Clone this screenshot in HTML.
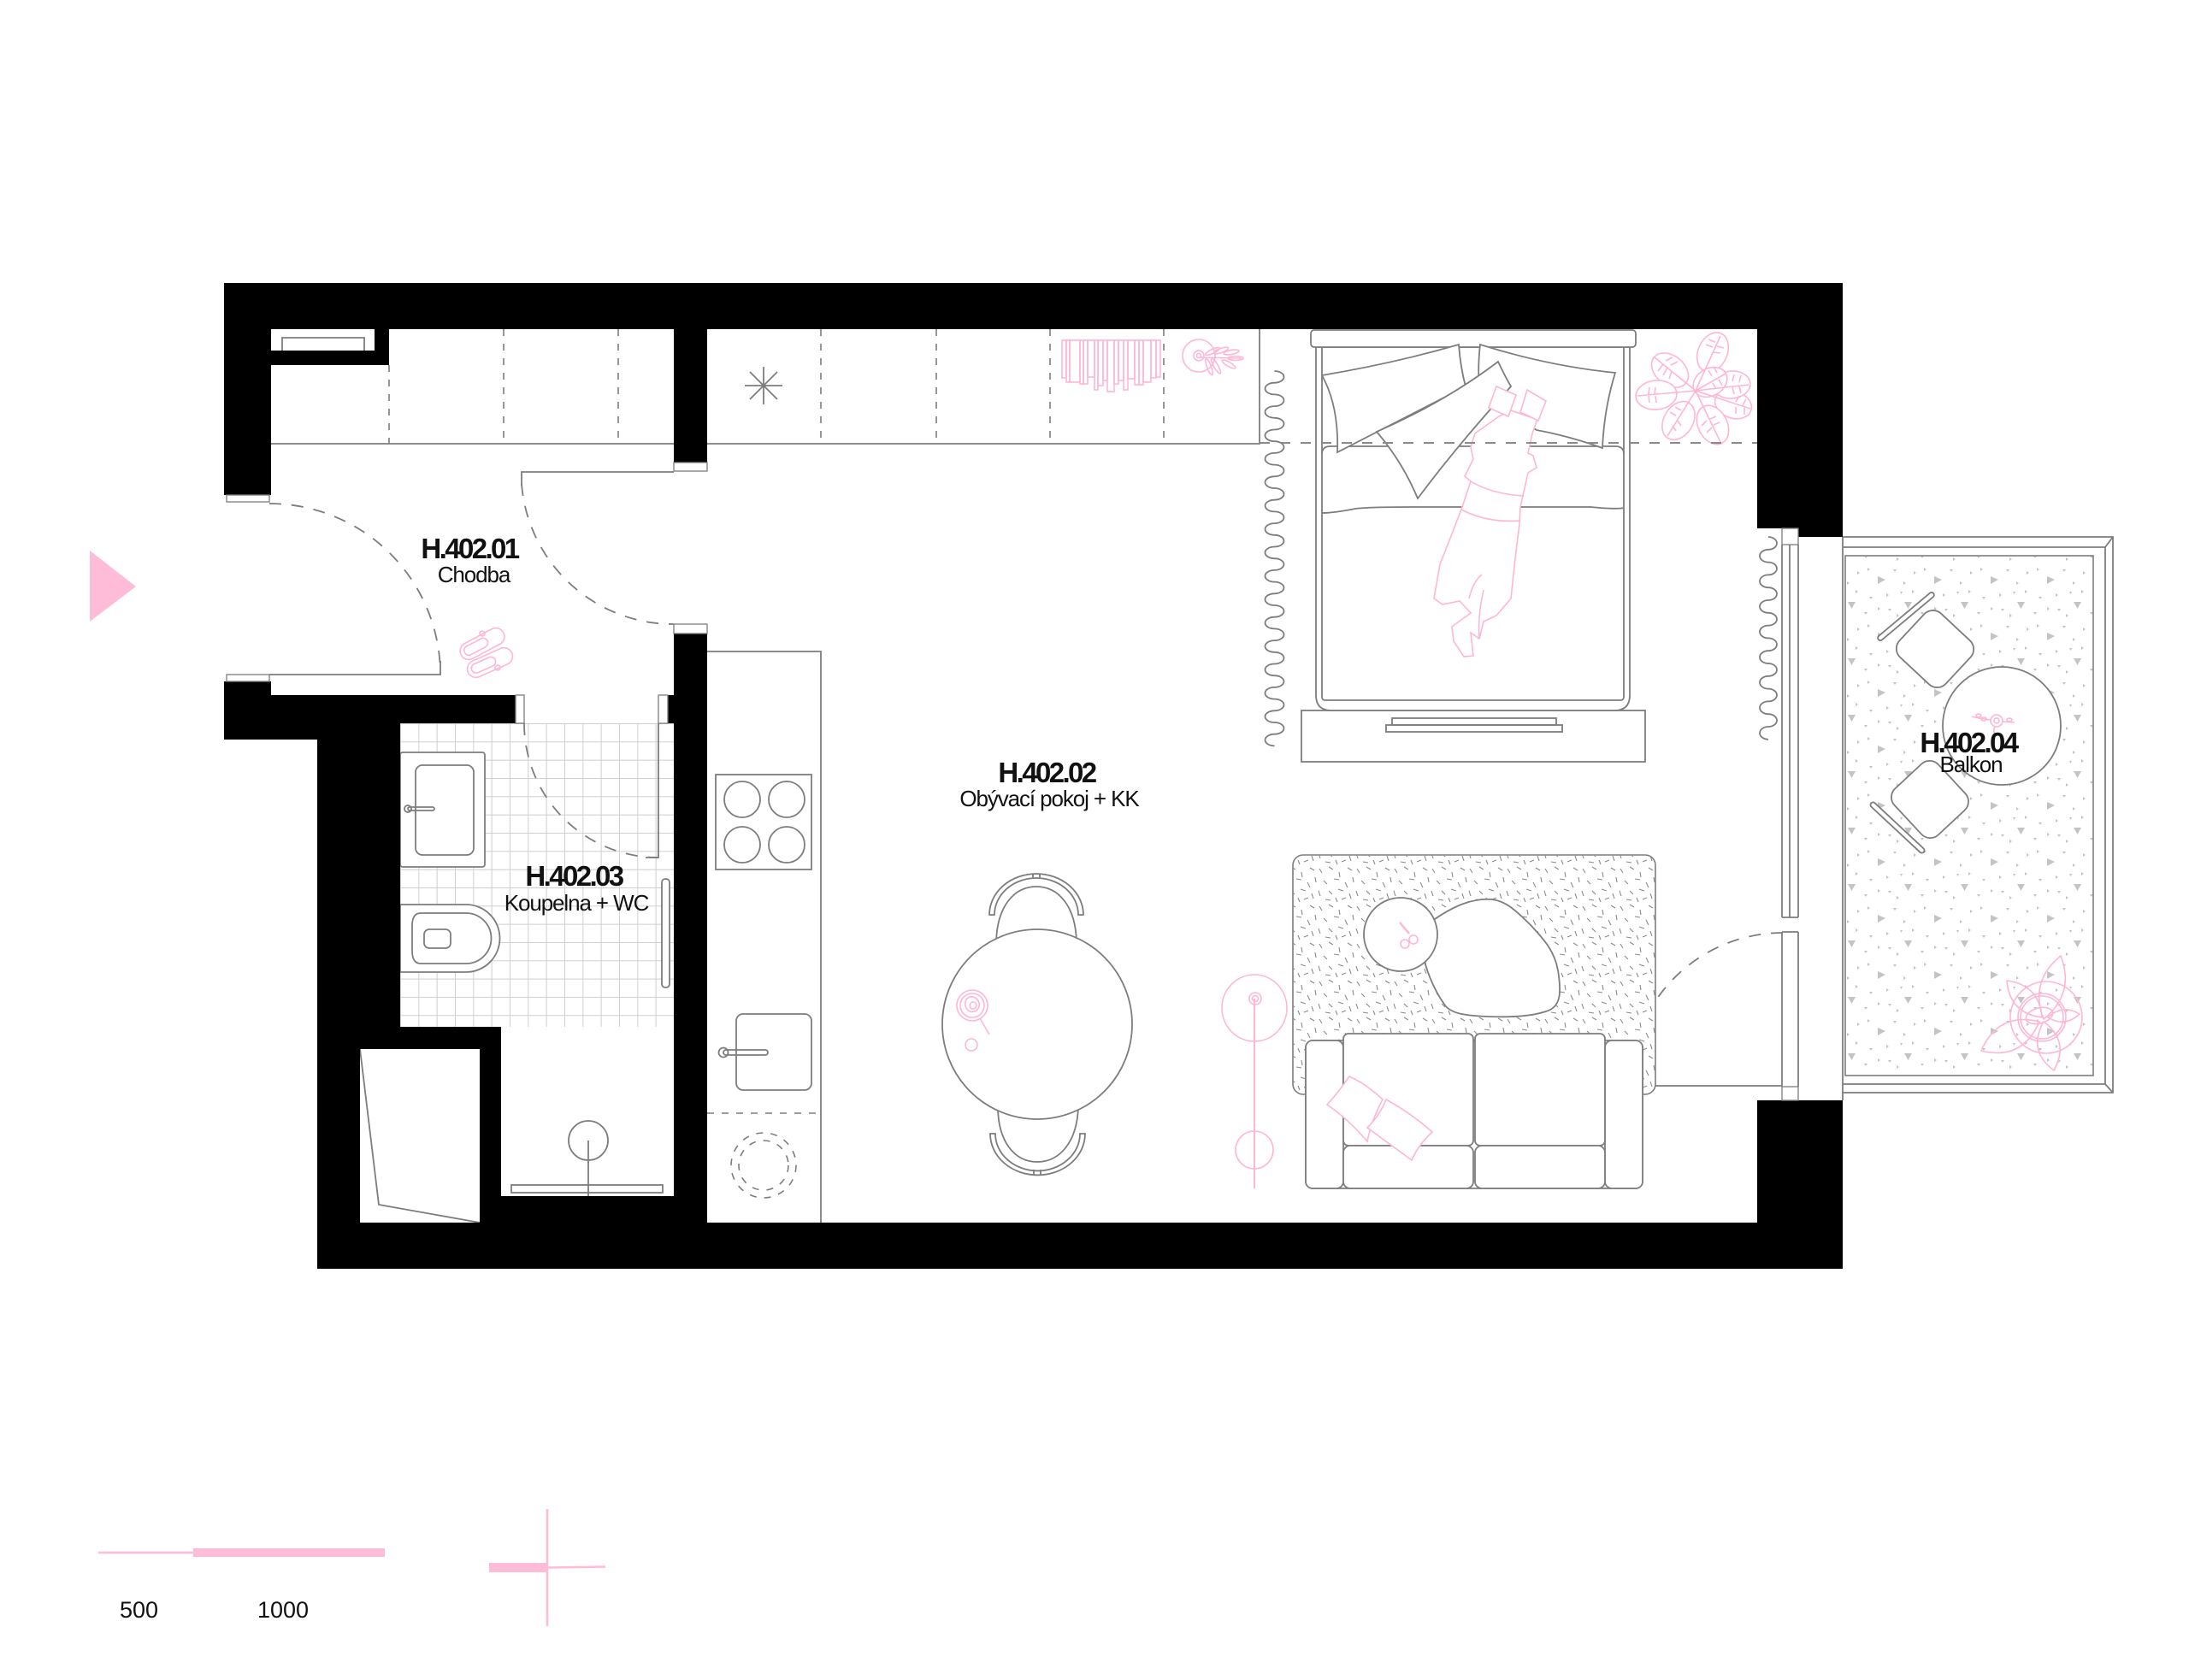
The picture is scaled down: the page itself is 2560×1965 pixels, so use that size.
<!DOCTYPE html>
<html><head><meta charset="utf-8"><style>
html,body{margin:0;padding:0;background:#fff;}
svg{display:block;}
.l{fill:none;stroke:#7d7d7d;stroke-width:1.8;}
.lw{fill:#fff;stroke:#7d7d7d;stroke-width:1.8;}
.d{fill:none;stroke:#7d7d7d;stroke-width:1.8;stroke-dasharray:14 12;}
.dw{fill:none;stroke:#7d7d7d;stroke-width:1.6;stroke-dasharray:8 9;}
.p{fill:none;stroke:#ffb6d5;stroke-width:1.6;}
.pw{fill:#fff;stroke:#ffb6d5;stroke-width:1.6;}
.cap{fill:#fff;stroke:#7d7d7d;stroke-width:1.3;}
text{font-family:"Liberation Sans",Arial,sans-serif;fill:#111;}
.t1{font-size:33px;font-weight:bold;letter-spacing:-2.6px;}
.t2{font-size:26px;letter-spacing:-1.1px;}
.sc{font-size:27px;}
</style></head><body>
<svg width="2560" height="1965" viewBox="0 0 2560 1965" xmlns="http://www.w3.org/2000/svg">
<defs>
<pattern id="tile" x="468" y="846" width="21.33" height="21.33" patternUnits="userSpaceOnUse">
<path d="M0,0.5H21.33M0.5,0V21.33" stroke="#cfcfcf" stroke-width="1" fill="none"/>
</pattern>
<pattern id="rug" width="44" height="44" patternUnits="userSpaceOnUse">
<g stroke="#8a8a8a" stroke-width="1.1" fill="none">
<path d="M3,4L6,9M14,2L19,5M26,8L27,14M36,3L41,6M8,18L12,22M20,16L26,17M33,20L36,26M2,30L4,36M14,30L18,34M25,28L31,30M38,33L40,39M10,40L16,41M22,38L24,43M42,14L43,20M29,40L34,38"/>
</g>
</pattern>
<pattern id="tri" width="66" height="66" patternUnits="userSpaceOnUse">
<g fill="#c4c4c4">
<path d="M18,14L27,18L18,23Z"/><path d="M49,44L58,44L53.5,52Z"/>
<path d="M6,4L9,6L6,8Z"/><path d="M36,6L40,6L38,9Z"/><path d="M48,20L51,22L48,24Z"/>
<path d="M8,38L12,38L10,41Z"/><path d="M28,34L31,36L28,38Z"/><path d="M40,58L43,60L40,62Z"/>
<path d="M60,8L63,10L60,12Z"/><path d="M2,56L6,56L4,59Z"/><path d="M30,52L34,52L32,55Z"/>
<path d="M58,30L61,32L58,34Z"/><path d="M18,50L21,52L18,54Z"/><path d="M44,32L47,32L45.5,35Z"/>
</g>
</pattern>
</defs>

<rect width="2560" height="1965" fill="#fff"/>

<!-- entrance marker -->
<path d="M105,644L159,686L105,727Z" fill="#ffbcd9"/>

<!-- bathroom tiles -->
<rect x="468" y="846" width="320" height="355" fill="url(#tile)"/>

<!-- balcony -->
<path class="l" d="M2155,628H2471V1278H2155"/>
<path class="l" d="M2155,640H2462V1268H2155M2462,640L2471,628M2462,1268L2471,1278"/>
<rect x="2158" y="650" width="290" height="608" fill="url(#tri)" stroke="#7d7d7d" stroke-width="1.6"/>
<line class="l" x1="2155" y1="628" x2="2155" y2="1287"/>

<!-- corridor wardrobe -->
<path class="l" d="M317,519H788"/>
<path class="dw" d="M455,427V519M589,385V519M723,385V519"/>
<path class="l" d="M330,410V395H426V410"/>
<!-- kitchen upper cabinets -->
<path class="l" d="M827,519H1473V385"/>
<path class="dw" d="M960,385V519M1095,385V519M1228,385V519M1361,385V519"/>
<path class="l" d="M893,429V473M871,451H915M877,435L909,467M877,467L909,435" stroke-width="1.5"/>
<!-- towels -->
<g class="p" stroke-width="1.3">
<rect x="1242" y="398" width="5" height="44"/><rect x="1247" y="398" width="4" height="49"/>
<rect x="1251" y="398" width="12" height="49"/><rect x="1263" y="398" width="4" height="51"/>
<rect x="1267" y="398" width="5" height="51"/><rect x="1272" y="398" width="8" height="43"/>
<rect x="1280" y="398" width="4" height="58"/><rect x="1284" y="398" width="6" height="53"/>
<rect x="1290" y="398" width="5" height="47"/><rect x="1295" y="398" width="8" height="60"/>
<rect x="1303" y="398" width="5" height="51"/><rect x="1308" y="398" width="6" height="47"/>
<rect x="1314" y="398" width="5" height="58"/><rect x="1319" y="398" width="8" height="45"/>
<rect x="1327" y="398" width="5" height="52"/><rect x="1332" y="398" width="5" height="52"/>
<rect x="1337" y="398" width="9" height="49"/><rect x="1346" y="398" width="6" height="44"/>
<rect x="1352" y="398" width="5" height="43"/>
</g>
<!-- plate w branch -->
<g class="p" stroke-width="1.3">
<circle cx="1402" cy="416" r="19"/><circle cx="1402" cy="416" r="6"/><circle cx="1402" cy="416" r="2.5"/>
<path d="M1404,418L1452,419"/>
<ellipse cx="1418" cy="411" rx="9" ry="2.5" transform="rotate(-25 1418 411)"/>
<ellipse cx="1428" cy="410" rx="9" ry="2.5" transform="rotate(-20 1428 410)"/>
<ellipse cx="1440" cy="412" rx="9" ry="2.5" transform="rotate(-10 1440 412)"/>
<ellipse cx="1445" cy="419" rx="9" ry="2.5"/>
<ellipse cx="1414" cy="429" rx="10" ry="2.5" transform="rotate(70 1414 429)"/>
<ellipse cx="1422" cy="428" rx="10" ry="2.5" transform="rotate(60 1422 428)"/>
<ellipse cx="1437" cy="426" rx="9" ry="2.5" transform="rotate(30 1437 426)"/>
</g>

<!-- kitchen counter -->
<path class="l" d="M827,762H960V1430"/>
<rect class="l" x="837" y="906" width="112" height="111"/>
<circle class="l" cx="868" cy="935" r="21"/><circle class="l" cx="920" cy="935" r="21"/>
<circle class="l" cx="868" cy="988" r="21"/><circle class="l" cx="920" cy="988" r="21"/>
<rect class="l" x="861" y="1186" width="88" height="89" rx="8"/>
<circle class="l" cx="846" cy="1231" r="5.5"/>
<rect class="l" x="846" y="1228" width="52" height="6" rx="3"/>
<path class="dw" d="M827,1302H960"/>
<circle class="dw" cx="893" cy="1363" r="38" stroke-dasharray="7 6"/>
<circle class="dw" cx="893" cy="1363" r="29" stroke-dasharray="7 6"/>

<!-- bathroom -->
<rect class="lw" x="468" y="880" width="99" height="134" rx="3"/>
<rect class="l" x="486" y="895" width="68" height="105" rx="8"/>
<circle class="l" cx="477" cy="946" r="4"/><rect class="l" x="477" y="944" width="31" height="4" rx="2"/>
<path class="lw" d="M468,1058H545A39.5,39.5 0 0 1 545,1137H468Z"/>
<path class="l" d="M492,1068H545A29.5,29.5 0 0 1 545,1127H492Q482,1127 482,1112V1083Q482,1068 492,1068Z"/>
<rect class="l" x="496" y="1087" width="31" height="22" rx="6"/>
<path class="d" d="M613,846A157,157 0 0 0 770,1003"/>
<path class="l" d="M770,846V1003H755"/>
<rect class="lw" x="774" y="1028" width="9" height="127" rx="4"/>
<!-- shower -->
<rect class="l" x="598" y="1386" width="177" height="9"/>
<circle class="l" cx="688" cy="1334" r="23"/>
<path class="l" d="M688,1334V1399"/>
<!-- closet -->
<path class="l" d="M421,1227L443,1409L561,1430"/>

<!-- corridor doors -->
<path class="d" d="M315,589A200,200 0 0 1 515,789"/>
<path class="l" d="M515,773V789H315"/>
<path class="d" d="M610,566A178,178 0 0 0 788,730"/>
<path class="l" d="M610,568V552H788"/>
<!-- sandals -->
<g class="p" stroke-width="1.3">
<rect x="536" y="743" width="56" height="20" rx="10" transform="rotate(-28 564 753)"/>
<rect x="541" y="747" width="30" height="11" rx="5.5" transform="rotate(-28 564 753)"/>
<rect x="545" y="765" width="56" height="20" rx="10" transform="rotate(-24 573 775)"/>
<rect x="550" y="769" width="30" height="11" rx="5.5" transform="rotate(-24 573 775)"/>
<circle cx="564" cy="741" r="3"/><circle cx="582" cy="781" r="3"/>
</g>

<!-- dining table -->
<path class="l" d="M1165,1102C1166,1060 1186,1037 1212,1037C1238,1037 1258,1060 1259,1102"/>
<path class="lw" d="M1157,1070A55,48 0 0 1 1267,1070L1261,1070A49,43 0 0 0 1163,1070Z"/>
<path class="l" d="M1208,1022V1028M1216,1022V1028"/>
<path class="l" d="M1167,1294C1167,1336 1187,1359 1213,1359C1239,1359 1260,1336 1261,1294"/>
<path class="lw" d="M1158,1326A55,48 0 0 0 1269,1326L1263,1326A49,43 0 0 1 1164,1326Z"/>
<path class="l" d="M1209,1368V1374M1217,1368V1374"/>
<circle class="lw" cx="1213" cy="1198" r="111"/>
<g class="p">
<circle cx="1137" cy="1176" r="18"/><circle cx="1137" cy="1176" r="14"/>
<path d="M1131,1168Q1137,1163 1143,1169Q1148,1176 1142,1182Q1134,1186 1130,1179Q1127,1172 1131,1168Z"/>
<circle cx="1138" cy="1176" r="4"/>
<path d="M1146,1191L1157,1210"/>
<circle cx="1136" cy="1222" r="7"/>
</g>

<!-- floor lamp -->
<g class="p">
<ellipse cx="1467" cy="1179" rx="38" ry="39"/>
<circle cx="1468" cy="1168" r="7"/><circle cx="1468" cy="1168" r="3.5"/>
<path d="M1467,1168V1390" stroke-width="2"/>
<circle cx="1467" cy="1345" r="22"/>
</g>

<!-- balcony door swing -->
<path class="d" d="M2085,1091A179,179 0 0 0 1906,1270"/>
<path class="l" d="M1906,1270H2084"/>

<!-- rug -->
<rect x="1512" y="1000" width="424" height="280" rx="12" fill="#fff" stroke="#7d7d7d" stroke-width="1.6"/>
<rect x="1512" y="1000" width="424" height="280" rx="12" fill="url(#rug)"/>
<path class="lw" d="M1678,1075C1700,1060 1722,1050 1745,1052C1760,1054 1770,1062 1790,1082C1805,1098 1818,1112 1822,1135C1826,1160 1826,1178 1808,1183C1790,1189 1765,1190 1740,1189C1715,1188 1698,1186 1690,1176C1680,1162 1672,1145 1667,1128C1664,1110 1668,1085 1678,1075Z"/>
<circle class="lw" cx="1638" cy="1093" r="43"/>
<g class="p">
<path d="M1637,1079L1648,1092" stroke-width="2.5"/>
<circle cx="1643" cy="1104" r="5"/><circle cx="1653" cy="1099" r="5"/>
</g>
<!-- sofa -->
<rect class="lw" x="1527" y="1217" width="394" height="173" rx="9"/>
<rect class="lw" x="1527" y="1217" width="44" height="173" rx="8"/>
<rect class="lw" x="1877" y="1217" width="44" height="173" rx="8"/>
<rect class="lw" x="1571" y="1209" width="152" height="131" rx="6"/>
<rect class="lw" x="1725" y="1209" width="152" height="131" rx="6"/>
<rect class="lw" x="1571" y="1340" width="152" height="50" rx="8"/>
<rect class="lw" x="1725" y="1340" width="152" height="50" rx="8"/>
<g class="pw">
<path d="M1578,1259Q1598,1268 1617,1286Q1604,1310 1599,1335Q1578,1310 1552,1292Q1565,1278 1578,1259Z"/>
<path d="M1621,1286Q1650,1302 1675,1324Q1658,1340 1651,1357Q1625,1338 1599,1319Q1614,1304 1621,1286Z"/>
</g>

<!-- curtains -->
<path class="l" d="M1490.5,434a11,6.85 0 0 1 0,13.7a11,6.85 0 0 0 0,13.7a11,6.85 0 0 1 0,13.7a11,6.85 0 0 0 0,13.7a11,6.85 0 0 1 0,13.7a11,6.85 0 0 0 0,13.7a11,6.85 0 0 1 0,13.7a11,6.85 0 0 0 0,13.7a11,6.85 0 0 1 0,13.7a11,6.85 0 0 0 0,13.7a11,6.85 0 0 1 0,13.7a11,6.85 0 0 0 0,13.7a11,6.85 0 0 1 0,13.7a11,6.85 0 0 0 0,13.7a11,6.85 0 0 1 0,13.7a11,6.85 0 0 0 0,13.7a11,6.85 0 0 1 0,13.7a11,6.85 0 0 0 0,13.7a11,6.85 0 0 1 0,13.7a11,6.85 0 0 0 0,13.7a11,6.85 0 0 1 0,13.7a11,6.85 0 0 0 0,13.7a11,6.85 0 0 1 0,13.7a11,6.85 0 0 0 0,13.7a11,6.85 0 0 1 0,13.7a11,6.85 0 0 0 0,13.7a11,6.85 0 0 1 0,13.7a11,6.85 0 0 0 0,13.7a11,6.85 0 0 1 0,13.7a11,6.85 0 0 0 0,13.7a11,6.85 0 0 1 0,13.7a11,6.85 0 0 0 0,13.7"/>
<path class="l" d="M2068,628a10,7.4 0 0 1 0,14.8a10,7.4 0 0 0 0,14.8a10,7.4 0 0 1 0,14.8a10,7.4 0 0 0 0,14.8a10,7.4 0 0 1 0,14.8a10,7.4 0 0 0 0,14.8a10,7.4 0 0 1 0,14.8a10,7.4 0 0 0 0,14.8a10,7.4 0 0 1 0,14.8a10,7.4 0 0 0 0,14.8a10,7.4 0 0 1 0,14.8a10,7.4 0 0 0 0,14.8a10,7.4 0 0 1 0,14.8a10,7.4 0 0 0 0,14.8a10,7.4 0 0 1 0,14.8a10,7.4 0 0 0 0,14.8"/>

<!-- bed -->
<rect class="lw" x="1522" y="831" width="402" height="60"/>
<rect class="l" x="1628" y="840" width="192" height="8"/>
<rect class="l" x="1621" y="848" width="206" height="8"/>
<path class="lw" d="M1539,406V813Q1539,831 1557,831H1888Q1906,831 1906,813V406Z"/>
<path class="l" d="M1546,406V815Q1546,819 1550,819H1895Q1899,819 1899,815V406"/>
<rect class="lw" x="1533" y="386" width="380" height="20" rx="4"/>
<path class="l" d="M1546,531Q1546,522 1556,522H1889Q1899,522 1899,531"/>
<path class="l" d="M1546,600Q1560,600 1585,595Q1600,593 1650,593H1860Q1890,596 1899,594"/>
<g class="lw">
<path d="M1546,439Q1630,425 1706,403Q1708,430 1714,452Q1640,490 1564,529Q1566,475 1546,439Z"/>
<path d="M1731,403Q1810,428 1889,436Q1876,478 1874,524Q1835,510 1797,503Q1760,480 1730,455Q1728,430 1731,403Z"/>
<path d="M1610,505Q1690,470 1752,423Q1760,440 1767,452Q1705,520 1658,583Q1640,540 1610,505Z"/>
</g>
<!-- person -->
<g class="pw" stroke-width="1.4">
<path d="M1753,487L1725,507L1720,523L1723,537L1713,557L1720,563L1710,593L1697,627L1684,660L1677,700L1687,707L1707,703L1720,717L1698,733L1700,750L1712,768L1723,767L1720,740L1730,747L1735,727L1750,720L1767,700L1772,653L1777,613L1778,593L1787,553L1797,547L1793,533L1787,530L1792,507L1798,490L1787,487L1767,480Z"/>
<path d="M1709,596Q1740,612 1778,609M1720,563Q1745,578 1782,580M1718,700Q1723,680 1733,672M1730,747Q1728,720 1735,690"/>
<path d="M1750,452L1773,462L1764,487L1741,477Z"/>
<path d="M1786,456L1808,469L1799,492L1778,482Z"/>
</g>
<!-- plant top right -->
<g class="pw" stroke-width="1.4">
<ellipse cx="1953" cy="433" rx="24" ry="17" transform="rotate(-141 1953 433)"/>
<ellipse cx="2003" cy="412" rx="24" ry="17" transform="rotate(-66 2003 412)"/>
<ellipse cx="2027" cy="473" rx="22" ry="16" transform="rotate(20 2027 473)"/>
<ellipse cx="2025" cy="450" rx="22" ry="16" transform="rotate(-5 2025 450)"/>
<ellipse cx="1937" cy="462" rx="24" ry="17" transform="rotate(174 1937 462)"/>
<ellipse cx="1963" cy="492" rx="24" ry="17" transform="rotate(121 1963 492)"/>
<ellipse cx="2003" cy="497" rx="24" ry="17" transform="rotate(63 2003 497)"/>
<ellipse cx="2000" cy="447" rx="21" ry="16" transform="rotate(-30 2000 447)"/>
</g>
<g class="p" stroke-width="1.1">
<path d="M1983,457L1935,418M1983,457L2012,393M1983,457L2047,478M1983,457L2045,450M1983,457L1915,463M1983,457L1950,510M1983,457L2012,517M1983,457L2018,437"/>
<path d="M1945,426l-6,8M1950,430l-5,9M1955,434l-3,9M1948,422l8,-4M1954,427l8,-4M2003,406l-8,-3M2006,400l-8,-3M2004,412l8,1M2008,405l8,2M1928,461l1,-8M1935,461l1,-8M1928,463l1,8M1936,463l1,8M1960,486l-7,-4M1966,480l-7,-4M1962,492l4,6M1956,498l4,6M2000,490l7,-3M2004,497l7,-3M1996,492l-6,6M2002,500l-6,6M2030,470l4,-7M2038,474l4,-7M2030,476l0,8M2040,477l0,8M2026,446l2,-8M2034,447l2,-8M2026,453l2,8M2034,452l2,8M2002,440l-4,-7M2008,436l-4,-7M2003,448l4,7M2010,444l4,7"/>
</g>
<!-- living dashed line -->
<path d="M1473,518H2055" fill="none" stroke="#8a8a8a" stroke-width="2" stroke-dasharray="12 12"/>

<!-- window lines -->
<path class="l" d="M2084,637V1073M2093,637V1073M2103,637V1073M2084,1073H2103M2084,1090H2103M2084,1090V1271M2103,1090V1271" stroke-width="1.5"/>

<!-- balcony furniture -->
<rect class="lw" x="-37" y="-35" width="74" height="70" rx="14" transform="translate(2263,759) rotate(43)"/>
<rect class="lw" x="-42" y="-3" width="84" height="6" rx="3" transform="translate(2229,721) rotate(-40)"/>
<rect class="lw" x="-37" y="-35" width="74" height="70" rx="14" transform="translate(2257,935) rotate(47)"/>
<rect class="lw" x="-42" y="-3" width="84" height="6" rx="3" transform="translate(2219,968) rotate(43)"/>
<circle class="lw" cx="2341" cy="849" r="69"/>
<g class="p" stroke-width="1.2">
<circle cx="2335" cy="843" r="7"/><circle cx="2335" cy="843" r="3"/>
<path d="M2328,842Q2312,840 2306,838M2342,844L2356,845M2333,850Q2330,856 2334,860"/>
<ellipse cx="2314" cy="837" rx="3" ry="2"/><ellipse cx="2320" cy="841" rx="3" ry="2"/><ellipse cx="2350" cy="842" rx="3" ry="2"/>
</g>
<g class="p" stroke-width="1.3">
<path d="M2390,1192Q2427,1162 2410,1118Q2373,1148 2390,1192Z"/>
<path d="M2388,1190Q2385,1152 2347,1147Q2350,1185 2388,1190Z"/>
<path d="M2385,1195Q2365,1241 2317,1229Q2337,1183 2385,1195Z"/>
<path d="M2390,1195Q2421,1218 2402,1252Q2371,1229 2390,1195Z"/>
<path d="M2395,1190Q2415,1202 2432,1186Q2412,1174 2395,1190Z"/>
<circle cx="2393" cy="1190" r="42"/>
<circle cx="2388" cy="1190" r="28"/><circle cx="2388" cy="1190" r="25"/>
<ellipse cx="2385" cy="1188" rx="16" ry="9" transform="rotate(-15 2385 1188)"/>
</g>

<!-- walls -->
<path fill="#000" d="M262,331H2155V385H262Z M262,385H317V579H262Z M317,410H455V427H317Z M438,385H455V410H438Z M788,385H827V541H788Z M262,797H317V813H262Z M262,813H603V846H262Z M262,846H468V865H262Z M371,865H468V1201H371Z M781,813H788V846H781Z M788,741H827V1430H788Z M371,1201H586V1227H371Z M371,1227H421V1430H371Z M561,1227H586V1430H561Z M586,1399H788V1430H586Z M371,1430H2155V1484H371Z M2055,385H2155V618H2055Z M2102,618H2155V628H2102Z M2055,1287H2155V1430H2055Z"/>

<!-- caps / jambs -->
<rect class="cap" x="265" y="579" width="50" height="8"/>
<rect class="cap" x="265" y="789" width="50" height="8"/>
<rect class="cap" x="788" y="541" width="39" height="10"/>
<rect class="cap" x="788" y="730" width="39" height="11"/>
<rect class="cap" x="2084" y="618" width="19" height="19"/>
<rect class="cap" x="2084" y="1271" width="19" height="16"/>
<rect class="cap" x="603" y="813" width="10" height="33"/>
<rect class="cap" x="770" y="813" width="11" height="33"/>

<!-- labels -->
<text class="t1" x="549" y="653" text-anchor="middle">H.402.01</text>
<text class="t2" x="554" y="681" text-anchor="middle">Chodba</text>
<text class="t1" x="1224" y="915" text-anchor="middle">H.402.02</text>
<text class="t2" x="1227" y="943" text-anchor="middle">Obývací pokoj + KK</text>
<text class="t1" x="671" y="1036" text-anchor="middle">H.402.03</text>
<text class="t2" x="674" y="1065" text-anchor="middle">Koupelna + WC</text>
<text class="t1" x="2302" y="880" text-anchor="middle">H.402.04</text>
<text class="t2" x="2305" y="903" text-anchor="middle">Balkon</text>

<!-- scale -->
<path d="M115,1816H226" stroke="#ffbcd9" stroke-width="2.6"/>
<rect x="226" y="1811" width="224" height="10" fill="#ffbcd9"/>
<text class="sc" x="140" y="1892">500</text>
<text class="sc" x="301" y="1892">1000</text>
<path d="M640,1765V1902" stroke="#ffbcd9" stroke-width="2.6"/>
<rect x="572" y="1828" width="68" height="11" fill="#ffbcd9"/>
<path d="M640,1833.5L708,1832.5" stroke="#ffbcd9" stroke-width="2.6"/>
</svg>
</body></html>
